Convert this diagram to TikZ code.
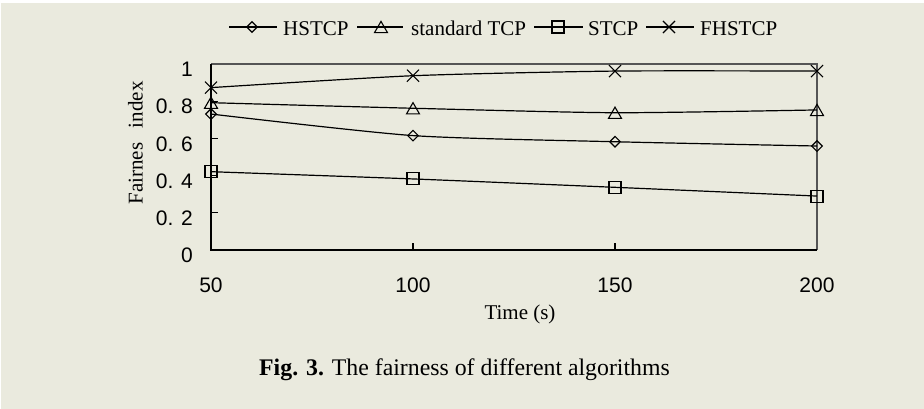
\documentclass[tikz,border=0pt]{standalone}
\usepackage{fontspec}
\setmainfont{Liberation Serif}
\newfontfamily\arialf{Liberation Sans}
\usetikzlibrary{shapes.geometric,shapes.misc}
\definecolor{bgbeige}{RGB}{234,234,222}
\definecolor{framegrey}{RGB}{85,85,85}
\begin{document}
\begin{tikzpicture}[x=1pt,y=-1pt,
  series/.style={line width=1.2pt,black},
  mk/.style={draw=black,line width=1.1pt,inner sep=0pt},
  mdia/.style={mk,diamond,minimum size=11pt},
  mtri/.style={mk,regular polygon,regular polygon sides=3,minimum size=15pt,yshift=-1.9pt},
  msq/.style={mk,rectangle,minimum size=12pt},
  mcross/.style={mk,cross out,minimum size=11pt},
  ticklab/.style={font=\arialf\fontsize{21}{21}\selectfont,inner sep=0pt},
  txt/.style={font=\fontsize{21}{21}\selectfont,inner sep=0pt}]
\fill[white] (0,0) rectangle (924,409);
\fill[bgbeige] (1,3) rectangle (924,409);
\useasboundingbox (0,0) rectangle (924,409);

% legend
\coordinate (la1) at (229,27); \coordinate (lb1) at (277,27);
\coordinate (la2) at (357,27); \coordinate (lb2) at (403,27);
\coordinate (la3) at (534,27); \coordinate (lb3) at (583,27);
\coordinate (la4) at (646,27); \coordinate (lb4) at (694,27);
\draw[series] (la1) -- (lb1);
\draw[series] (la2) -- (lb2);
\draw[series] (la3) -- (lb3);
\draw[series] (la4) -- (lb4);
\node[mdia] (lm1) at (252,27) {};
\node[mtri] (lm2) at (381,27) {};
\node[msq] (lm3) at (558,27) {};
\node[mcross] (lm4) at (669,27) {};
\node[txt,anchor=base west] (lt1) at (283,36) {HSTCP};
\node[txt,anchor=base west] (lt2) at (411,36) {standard TCP};
\node[txt,anchor=base west] (lt3) at (588,36) {STCP};
\node[txt,anchor=base west] (lt4) at (700,36) {FHSTCP};

% y tick labels
\node[ticklab,anchor=east] (y0) at (193,255.5) {0};
\node[ticklab,anchor=east] (y2) at (193,218.3) {0. 2};
\node[ticklab,anchor=east] (y4) at (193,181.1) {0. 4};
\node[ticklab,anchor=east] (y6) at (193,143.9) {0. 6};
\node[ticklab,anchor=east] (y8) at (193,106.7) {0. 8};
\node[ticklab,anchor=east] (y10) at (193,69.5) {1};
% x tick labels
\node[ticklab] (x50) at (211,285) {50};
\node[ticklab] (x100) at (413,285) {100};
\node[ticklab] (x150) at (615,285) {150};
\node[ticklab] (x200) at (817,285) {200};
% titles
\node[txt,rotate=90] (ytitle) at (135.5,143) {Fairnes\hspace{0.7em}index};
\node[txt,anchor=base] (xtitle) at (520,319) {Time (s)};
\node[anchor=base west,inner sep=0pt,font=\fontsize{23.8}{23.8}\selectfont] (cap) at (259,375) {\textbf{Fig. 3.} The fairness of different algorithms};

\begin{scope}[shift={(211,250)},x=4.04pt,y=186pt]
  % frame
  \draw[framegrey,line width=1.1pt] (0,1) -- (150,1) -- (150,0);
  \foreach \v in {0.2,0.4,0.6,0.8}
    \draw[line width=1.1pt] (0,\v) -- ++(7pt,0);
  \foreach \t in {50,100}
    \draw[line width=1.1pt] (\t,0) -- ++(0,7pt);
  \draw[black,line width=1.8pt,line join=miter] (0,1) -- (0,0) -- (150,0);

  % data
  \coordinate (f1) at (0,0.873);   \coordinate (f2) at (50,0.937);
  \coordinate (f3) at (100,0.962); \coordinate (f4) at (150,0.962);
  \coordinate (s1) at (0,0.792);   \coordinate (s2) at (50,0.762);
  \coordinate (s3) at (100,0.738); \coordinate (s4) at (150,0.753);
  \coordinate (h1) at (0,0.731);   \coordinate (h2) at (50,0.615);
  \coordinate (h3) at (100,0.582); \coordinate (h4) at (150,0.559);
  \coordinate (q1) at (0,0.421);   \coordinate (q2) at (50,0.382);
  \coordinate (q3) at (100,0.337); \coordinate (q4) at (150,0.290);

  \draw[series] plot[smooth,tension=0.4] coordinates {(f1) (f2) (f3) (f4)};
  \draw[series] plot[smooth,tension=0.4] coordinates {(s1) (s2) (s3) (s4)};
  \draw[series] plot[smooth,tension=0.4] coordinates {(h1) (h2) (h3) (h4)};
  \draw[series] plot[smooth,tension=0.4] coordinates {(q1) (q2) (q3) (q4)};

  \foreach \i in {1,2,3,4} {
    \node[mcross] (fm\i) at (f\i) {};
    \node[mtri] (sm\i) at (s\i) {};
    \node[mdia] (hm\i) at (h\i) {};
    \node[msq] (qm\i) at (q\i) {};
  }
\end{scope}
\end{tikzpicture}
\end{document}
